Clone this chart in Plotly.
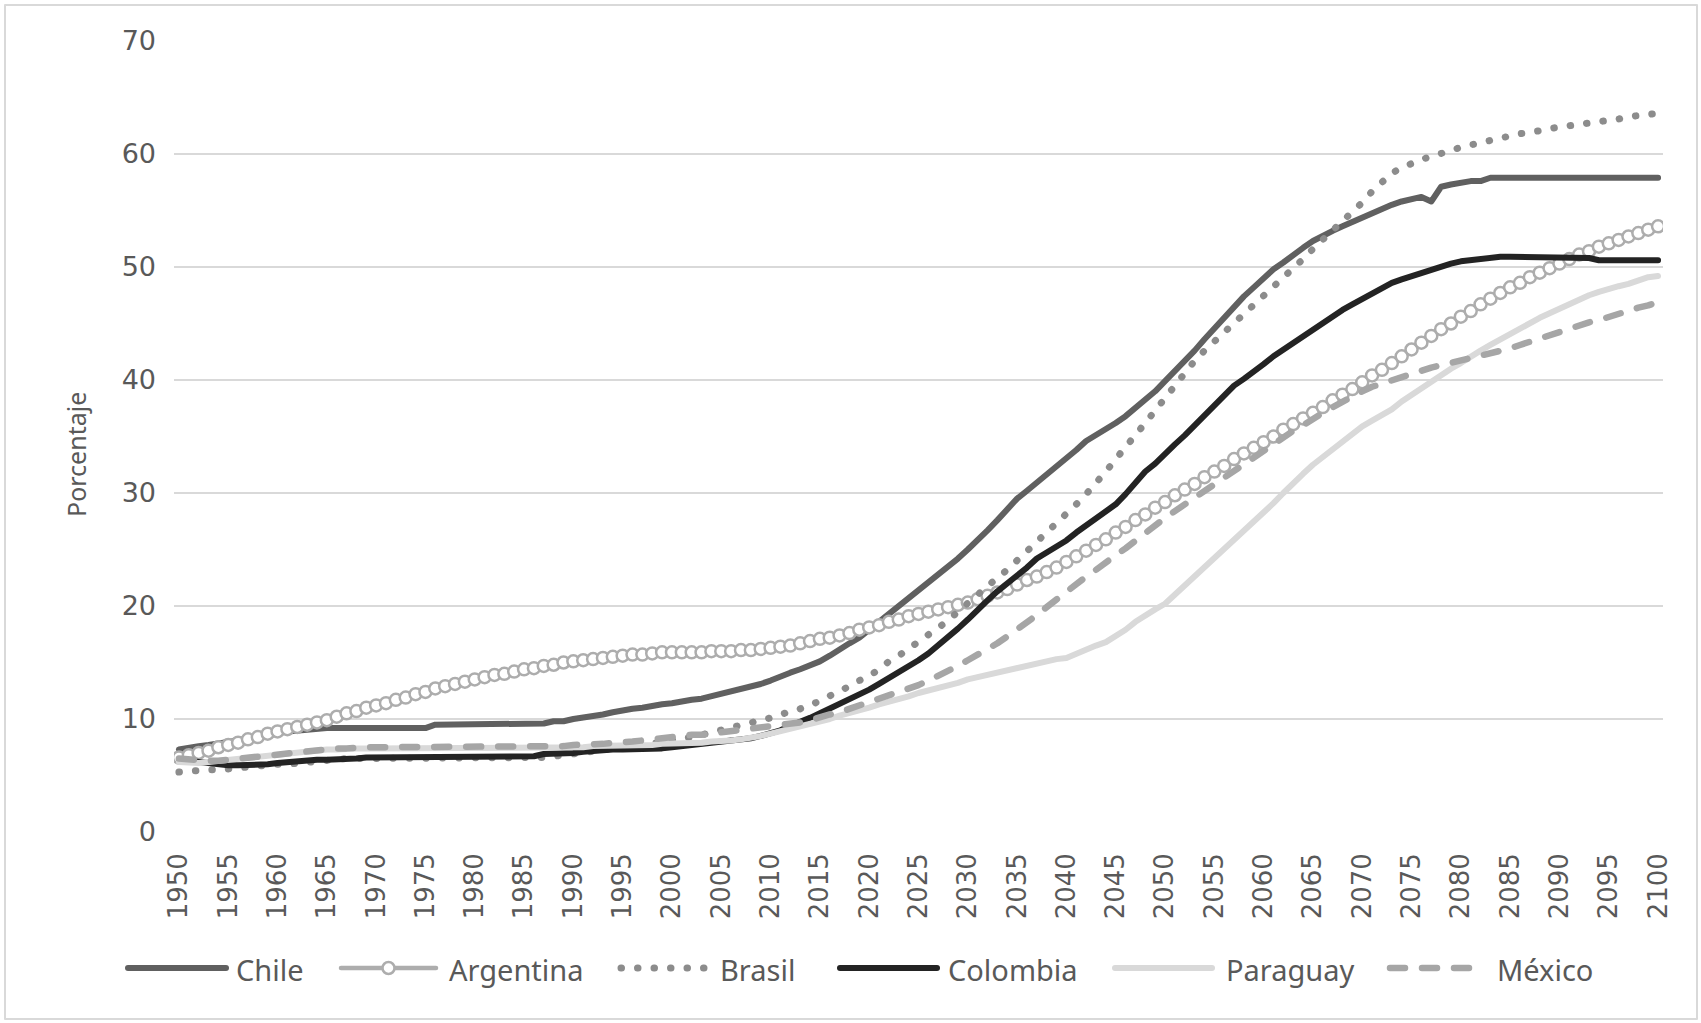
import plotly.graph_objects as go

# ---------------- data ----------------
YEARS = list(range(1950, 2101))

CHILE = [
    7.3, 7.5, 7.6, 7.7, 7.8, 8.0, 8.1, 8.3, 8.4, 8.6,
    8.7, 8.9, 9.0, 9.1, 9.2, 9.2, 9.2, 9.2, 9.2, 9.2,
    9.2, 9.2, 9.2, 9.2, 9.2, 9.2, 9.5, 9.5, 9.5, 9.5,
    9.5, 9.5, 9.5, 9.5, 9.5, 9.5, 9.5, 9.6, 9.8, 9.8,
    10.0, 10.1, 10.2, 10.4, 10.6, 10.8, 10.9, 11.0, 11.2, 11.3,
    11.4, 11.6, 11.7, 11.8, 12.0, 12.2, 12.4, 12.6, 12.8, 13.1,
    13.4, 13.8, 14.1, 14.4, 14.7, 15.1, 15.6, 16.2, 16.7, 17.2,
    17.9, 18.6, 19.3, 20.0, 20.7, 21.3, 22.0, 22.7, 23.4, 24.2,
    25.0, 25.8, 26.7, 27.6, 28.6, 29.5, 30.2, 30.9, 31.6, 32.3,
    33.0, 33.8, 34.6, 35.1, 35.6, 36.2, 36.8, 37.5, 38.2, 39.0,
    39.9, 40.8, 41.6, 42.6, 43.6, 44.6, 45.6, 46.5, 47.4, 48.2,
    49.0, 49.8, 50.4, 51.1, 51.7, 52.3, 52.8, 53.2, 53.6, 54.0,
    54.4, 54.8, 55.1, 55.5, 55.8, 56.0, 56.2, 55.8, 57.1, 57.3,
    57.5, 57.6, 57.6, 57.9, 57.9, 57.9, 57.9, 57.9, 57.9, 57.9,
    57.9, 57.9, 57.9, 57.9, 57.9, 57.9, 57.9, 57.9, 57.9, 57.9,
    57.9,
]

ARGENTINA = [
    6.6, 6.8, 7.0, 7.2, 7.5, 7.7, 7.9, 8.2, 8.4, 8.7,
    8.9, 9.1, 9.3, 9.5, 9.7, 9.9, 10.2, 10.5, 10.7, 11.0,
    11.2, 11.4, 11.7, 11.9, 12.2, 12.4, 12.7, 12.9, 13.1, 13.3,
    13.5, 13.7, 13.9, 14.0, 14.2, 14.4, 14.5, 14.7, 14.8, 15.0,
    15.1, 15.2, 15.3, 15.4, 15.5, 15.6, 15.7, 15.7, 15.8, 15.9,
    15.9, 15.9, 15.9, 15.9, 16.0, 16.0, 16.0, 16.1, 16.1, 16.2,
    16.3, 16.4, 16.5, 16.7, 16.9, 17.1, 17.2, 17.4, 17.6, 17.9,
    18.1, 18.3, 18.6, 18.8, 19.1, 19.3, 19.5, 19.7, 19.9, 20.1,
    20.3, 20.6, 20.9, 21.2, 21.5, 21.9, 22.3, 22.6, 23.0, 23.4,
    23.9, 24.4, 24.9, 25.4, 25.9, 26.5, 27.0, 27.6, 28.1, 28.7,
    29.2, 29.8, 30.3, 30.8, 31.4, 31.9, 32.4, 33.0, 33.5, 34.0,
    34.5, 35.0, 35.6, 36.1, 36.6, 37.1, 37.6, 38.2, 38.7, 39.2,
    39.8, 40.4, 40.9, 41.5, 42.1, 42.7, 43.3, 43.9, 44.5, 45.0,
    45.6, 46.1, 46.7, 47.2, 47.7, 48.2, 48.6, 49.1, 49.5, 49.9,
    50.3, 50.7, 51.1, 51.4, 51.8, 52.1, 52.4, 52.7, 53.0, 53.3,
    53.6,
]

BRASIL = [
    5.3, 5.4, 5.4, 5.5, 5.5, 5.6, 5.7, 5.7, 5.8, 5.9,
    6.0, 6.0, 6.1, 6.2, 6.3, 6.4, 6.4, 6.5, 6.5, 6.5,
    6.5, 6.5, 6.5, 6.5, 6.5, 6.5, 6.5, 6.5, 6.5, 6.5,
    6.6, 6.6, 6.6, 6.6, 6.6, 6.6, 6.6, 6.6, 6.7, 6.8,
    6.9, 7.0, 7.1, 7.2, 7.4, 7.5, 7.6, 7.7, 7.8, 8.0,
    8.1, 8.3, 8.4, 8.6, 8.8, 9.0, 9.2, 9.4, 9.6, 9.9,
    10.1, 10.4, 10.6, 10.9, 11.2, 11.6, 12.0, 12.5, 12.9, 13.4,
    13.8, 14.4, 15.1, 15.6, 16.2, 16.8, 17.4, 18.0, 18.7, 19.5,
    20.3, 21.0, 21.7, 22.5, 23.2, 24.0, 24.8, 25.7, 26.5, 27.3,
    28.1, 29.0, 29.9, 30.8, 31.9, 33.0, 34.0, 35.1, 36.2, 37.3,
    38.4, 39.6, 40.7, 41.7, 42.6, 43.4, 44.2, 45.0, 45.8, 46.5,
    47.3, 48.2, 49.0, 49.8, 50.7, 51.6, 52.4, 53.2, 54.1, 54.9,
    55.7, 56.7, 57.6, 58.3, 58.8, 59.2, 59.5, 59.8, 60.0, 60.3,
    60.6, 60.8, 61.1, 61.3, 61.5, 61.6, 61.8, 61.9, 62.1, 62.2,
    62.4, 62.5, 62.6, 62.8, 62.9, 63.0, 63.1, 63.3, 63.4, 63.5,
    63.6,
]

COLOMBIA = [
    6.4, 6.3, 6.1, 6.0, 5.9, 5.9, 5.9, 5.9, 6.0, 6.0,
    6.1, 6.2, 6.3, 6.3, 6.4, 6.4, 6.4, 6.5, 6.5, 6.6,
    6.6, 6.6, 6.6, 6.6, 6.6, 6.6, 6.6, 6.6, 6.6, 6.7,
    6.7, 6.7, 6.7, 6.7, 6.7, 6.7, 6.7, 6.9, 6.9, 7.0,
    7.0, 7.1, 7.2, 7.2, 7.3, 7.3, 7.3, 7.4, 7.4, 7.4,
    7.5, 7.6, 7.7, 7.7, 7.8, 7.9, 8.0, 8.1, 8.3, 8.5,
    8.7, 9.0, 9.4, 9.7, 10.1, 10.5, 10.9, 11.3, 11.8, 12.2,
    12.6, 13.1, 13.6, 14.2, 14.7, 15.2, 15.8, 16.5, 17.2, 18.0,
    18.8, 19.7, 20.5, 21.3, 22.0, 22.6, 23.4, 24.2, 24.7, 25.2,
    25.8, 26.5, 27.1, 27.8, 28.4, 29.0, 29.9, 31.0, 31.9, 32.6,
    33.5, 34.3, 35.1, 36.0, 36.9, 37.8, 38.6, 39.5, 40.1, 40.7,
    41.4, 42.1, 42.7, 43.2, 43.8, 44.5, 45.0, 45.6, 46.2, 46.7,
    47.2, 47.7, 48.2, 48.6, 48.9, 49.2, 49.5, 49.8, 50.0, 50.3,
    50.5, 50.6, 50.8, 50.9, 50.9, 50.9, 50.9, 50.9, 50.9, 50.9,
    50.9, 50.9, 50.9, 50.8, 50.6, 50.6, 50.6, 50.6, 50.6, 50.6,
    50.6,
]

PARAGUAY = [
    6.2, 6.1, 6.1, 6.2, 6.3, 6.4, 6.5, 6.6, 6.7, 6.8,
    6.9, 7.0, 7.1, 7.2, 7.2, 7.3, 7.3, 7.4, 7.4, 7.4,
    7.4, 7.4, 7.4, 7.4, 7.4, 7.4, 7.4, 7.4, 7.4, 7.4,
    7.4, 7.4, 7.4, 7.4, 7.4, 7.4, 7.4, 7.5, 7.5, 7.5,
    7.5, 7.5, 7.6, 7.6, 7.7, 7.7, 7.7, 7.7, 7.7, 7.8,
    7.8, 7.8, 7.8, 7.9, 8.0, 8.0, 8.1, 8.2, 8.3, 8.5,
    8.7, 8.9, 9.1, 9.3, 9.5, 9.8, 10.0, 10.3, 10.5, 10.8,
    11.0, 11.3, 11.5, 11.8, 12.0, 12.3, 12.5, 12.8, 13.0, 13.2,
    13.5, 13.7, 13.9, 14.1, 14.3, 14.5, 14.7, 14.9, 15.2, 15.3,
    15.4, 15.8, 16.1, 16.5, 16.8, 17.3, 17.9, 18.6, 19.2, 19.7,
    20.2, 21.0, 21.8, 22.6, 23.5, 24.3, 25.1, 25.9, 26.7, 27.4,
    28.2, 29.1, 30.0, 30.9, 31.7, 32.5, 33.2, 33.9, 34.5, 35.2,
    35.9, 36.4, 36.9, 37.4, 38.1, 38.7, 39.3, 39.9, 40.4, 41.0,
    41.5, 42.1, 42.6, 43.1, 43.6, 44.1, 44.6, 45.0, 45.5, 45.9,
    46.3, 46.8, 47.2, 47.5, 47.8, 48.1, 48.3, 48.5, 48.8, 49.1,
    49.2,
]

MEXICO = [
    6.5, 6.4, 6.4, 6.3, 6.3, 6.4, 6.5, 6.6, 6.7, 6.8,
    6.9, 7.0, 7.1, 7.2, 7.3, 7.3, 7.4, 7.4, 7.5, 7.5,
    7.5, 7.5, 7.5, 7.5, 7.5, 7.5, 7.5, 7.5, 7.5, 7.5,
    7.5, 7.5, 7.5, 7.5, 7.5, 7.5, 7.5, 7.5, 7.6, 7.6,
    7.7, 7.7, 7.8, 7.8, 7.9, 7.9, 8.0, 8.1, 8.2, 8.4,
    8.5, 8.5, 8.6, 8.6, 8.7, 8.8, 8.9, 9.0, 9.1, 9.2,
    9.3, 9.4, 9.5, 9.7, 9.9, 10.2, 10.4, 10.6, 10.9, 11.1,
    11.4, 11.7, 12.0, 12.3, 12.7, 13.0, 13.4, 13.8, 14.3, 14.7,
    15.2, 15.7, 16.1, 16.7, 17.3, 17.9, 18.5, 19.2, 19.9, 20.6,
    21.3, 22.0, 22.6, 23.2, 23.9, 24.5, 25.1, 25.8, 26.5, 27.1,
    27.8, 28.4, 29.0, 29.6, 30.2, 30.8, 31.4, 32.0, 32.6, 33.2,
    33.8, 34.4, 34.9, 35.5, 36.0, 36.6, 37.1, 37.6, 38.1, 38.6,
    39.0, 39.4, 39.7, 40.0, 40.3, 40.6, 40.8, 41.1, 41.3, 41.5,
    41.7, 41.9, 42.1, 42.4, 42.6, 42.8, 43.1, 43.4, 43.7, 43.9,
    44.2, 44.5, 44.8, 45.1, 45.3, 45.6, 45.8, 46.1, 46.4, 46.6,
    46.9,
]

X_TICKS = list(range(1950, 2101, 5))
X_TICK_TEXT = [str(y) for y in X_TICKS]
Y_TICKS = [0, 10, 20, 30, 40, 50, 60, 70]
Y_TITLE = "Porcentaje"

# ---------------- styles ----------------
W, H = 1701, 1023
L, R, T, B = 174, 1663, 41, 832          # plot area in pixels
PW, PH = R - L, B - T
TXT = "#595959"
GRID = "#d9d9d9"

def px(x):
    return (x - L) / PW

def py(y):
    return (B - y) / PH

STYLES = {
    "Chile":     dict(color="#606060", width=6, dash="solid"),
    "Argentina": dict(color="#adadad", width=4.5, dash="solid"),
    "Brasil":    dict(color="#8c8c8c", width=7, dash="0.5px,16px"),
    "Colombia":  dict(color="#232323", width=6, dash="solid"),
    "Paraguay":  dict(color="#d9d9d9", width=6, dash="solid"),
    "México":    dict(color="#a6a6a6", width=6.5, dash="15px,17px"),
}
SERIES = [("Chile", CHILE), ("Argentina", ARGENTINA), ("Brasil", BRASIL),
          ("Colombia", COLOMBIA), ("Paraguay", PARAGUAY), ("México", MEXICO)]

fig = go.Figure()
for name, vals in SERIES:
    st = STYLES[name]
    kw = dict(
        x=YEARS, y=vals, name=name, showlegend=False, hoverinfo="skip",
        line=dict(color=st["color"], width=st["width"], dash=st["dash"]),
    )
    if name == "Argentina":
        kw["mode"] = "lines+markers"
        kw["marker"] = dict(symbol="circle", size=12, color="white",
                            line=dict(color=st["color"], width=2.5))
    else:
        kw["mode"] = "lines"
    fig.add_trace(go.Scatter(**kw))

# ---------------- legend (drawn by hand, like Excel's) ----------------
LEGEND_Y = 968
LEGEND_ITEMS = [  # name, sample start px, sample end px, text start px
    ("Chile", 128, 226, 234),
    ("Argentina", 341, 436, 447),
    ("Brasil", 621, 707, 718),
    ("Colombia", 840, 937, 946),
    ("Paraguay", 1115, 1212, 1224),
    ("México", 1390, 1484, 1495),
]
shapes = []
annotations = []
for name, x0, x1, xt in LEGEND_ITEMS:
    st = STYLES[name]
    shapes.append(dict(type="line", xref="paper", yref="paper",
                       x0=px(x0), x1=px(x1), y0=py(LEGEND_Y), y1=py(LEGEND_Y),
                       line=dict(color=st["color"], width=st["width"], dash=st["dash"])))
    if name == "Argentina":
        cx = (x0 + x1) / 2
        shapes.append(dict(type="circle", xref="paper", yref="paper",
                           x0=px(cx - 6), x1=px(cx + 6),
                           y0=py(LEGEND_Y + 6), y1=py(LEGEND_Y - 6),
                           fillcolor="white", line=dict(color=st["color"], width=2.5)))
    annotations.append(dict(text=name, xref="paper", yref="paper",
                            x=px(xt), y=py(LEGEND_Y + 1), xanchor="left", yanchor="middle",
                            showarrow=False,
                            font=dict(family="Noto Sans", size=29, color=TXT)))

# outer chart frame
shapes.append(dict(type="rect", xref="paper", yref="paper",
                   x0=px(5), x1=px(1697), y0=py(1019), y1=py(5),
                   line=dict(color="#d9d9d9", width=2), fillcolor="rgba(0,0,0,0)",
                   layer="below"))

annotations.append(dict(text=Y_TITLE, xref="paper", yref="paper",
                        x=px(76), y=py(455), textangle=-90,
                        xanchor="center", yanchor="middle", showarrow=False,
                        font=dict(family="Noto Sans", size=25, color=TXT)))

fig.update_layout(
    width=W, height=H,
    margin=dict(l=L, r=W - R, t=T, b=H - B, pad=0),
    paper_bgcolor="white", plot_bgcolor="white",
    showlegend=False,
    shapes=shapes, annotations=annotations,
    xaxis=dict(
        range=[1949.5, 2100.5], tickmode="array", tickvals=X_TICKS, ticktext=X_TICK_TEXT,
        tickangle=-90, showgrid=False, zeroline=False, showline=False, ticks="",
        ticklabelstandoff=15, automargin=False,
        tickfont=dict(family="DejaVu Sans", size=26, color=TXT),
    ),
    yaxis=dict(
        range=[0, 70], tickmode="array", tickvals=Y_TICKS,
        showgrid=True, gridcolor=GRID, gridwidth=2, zeroline=False, showline=False,
        ticks="", ticklabelstandoff=17, automargin=False,
        tickfont=dict(family="DejaVu Sans", size=27, color=TXT),
    ),
)

POST = """
var s = document.createElement('style');
s.textContent = 'html, body {margin: 0 !important; padding: 0 !important; overflow: hidden;} ' +
  '.scatterlayer .js-line, .shapelayer path {stroke-linecap: round !important; stroke-linejoin: round !important;}';
document.head.appendChild(s);
"""
fig.write_html("out.html", post_script=POST, config={"displayModeBar": False})
